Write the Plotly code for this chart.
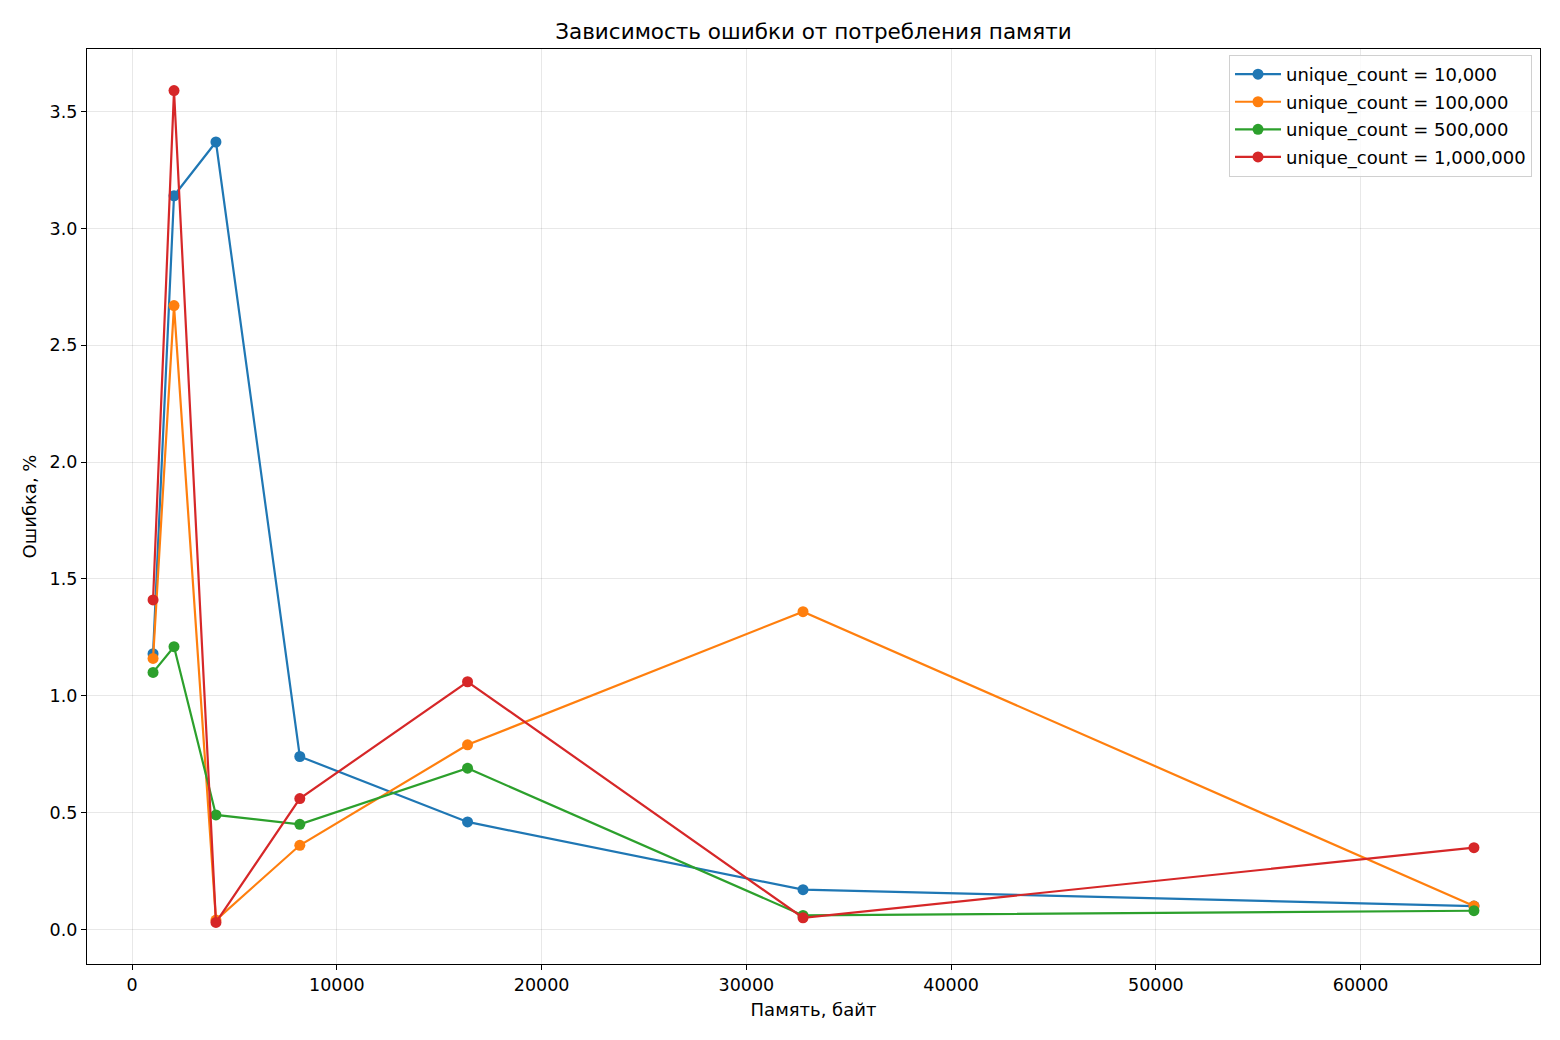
import plotly.graph_objects as go

memory = [1024, 2048, 4096, 8192, 16384, 32768, 65536]
err_10k = [1.18, 3.14, 3.37, 0.74, 0.46, 0.17, 0.10]
err_100k = [1.16, 2.67, 0.04, 0.36, 0.79, 1.36, 0.10]
err_500k = [1.10, 1.21, 0.49, 0.45, 0.69, 0.06, 0.08]
err_1m = [1.41, 3.59, 0.03, 0.56, 1.06, 0.05, 0.35]
names = ["unique_count = 10,000", "unique_count = 100,000",
         "unique_count = 500,000", "unique_count = 1,000,000"]
colors = ["#1f77b4", "#ff7f0e", "#2ca02c", "#d62728"]
xticks = [0, 10000, 20000, 30000, 40000, 50000, 60000]
yticks = [0.0, 0.5, 1.0, 1.5, 2.0, 2.5, 3.0, 3.5]

FONT = "DejaVu Sans"
fig = go.Figure()
for i, (ys, nm, c) in enumerate(zip([err_10k, err_100k, err_500k, err_1m], names, colors)):
    fig.add_trace(go.Scatter(
        x=memory, y=ys, name=nm, mode="lines+markers",
        line=dict(color=c, width=2.2),
        marker=dict(color=c, size=11),
        legendgroup=f"g{i}",
    ))

xmin, xmax = min(memory), max(memory)
allv = err_10k + err_100k + err_500k + err_1m
ymin, ymax = min(allv), max(allv)
xm = (xmax - xmin) * 0.05
ym = (ymax - ymin) * 0.05

axis_common = dict(
    showline=True, linecolor="black", linewidth=1.2, mirror=True,
    ticks="outside", ticklen=5, tickwidth=1.1, tickcolor="black",
    showgrid=True, gridcolor="rgba(0,0,0,0.09)", gridwidth=1,
    zeroline=False,
    tickfont=dict(family=FONT, size=17.5, color="black"),
)

fig.update_layout(
    width=1560, height=1040,
    margin=dict(l=87, r=20, t=49, b=76),
    paper_bgcolor="white", plot_bgcolor="white",
    font=dict(family=FONT, color="black"),
    title=dict(text="Зависимость ошибки от потребления памяти",
               x=0.5, xref="paper", xanchor="center",
               y=1 - 31 / 1040, yanchor="middle",
               font=dict(family=FONT, size=21.5, color="black")),
    xaxis=dict(range=[xmin - xm, xmax + xm], tickvals=xticks,
               ticktext=[str(v) for v in xticks],
               title=dict(text="Память, байт", font=dict(family=FONT, size=18), standoff=9),
               **axis_common),
    yaxis=dict(range=[ymin - ym, ymax + ym], tickvals=yticks,
               ticktext=[f"{v:.1f}" for v in yticks],
               title=dict(text="Ошибка, %", font=dict(family=FONT, size=18), standoff=8),
               **axis_common),
    legend=dict(x=0.9945, y=0.9935, xanchor="right", yanchor="top",
                bgcolor="rgba(255,255,255,0.8)", bordercolor="#d0d0d0", borderwidth=1,
                font=dict(family=FONT, size=18, color="black"),
                tracegroupgap=1.2, itemwidth=46),
    showlegend=True,
)

fig.write_html("out.html")
